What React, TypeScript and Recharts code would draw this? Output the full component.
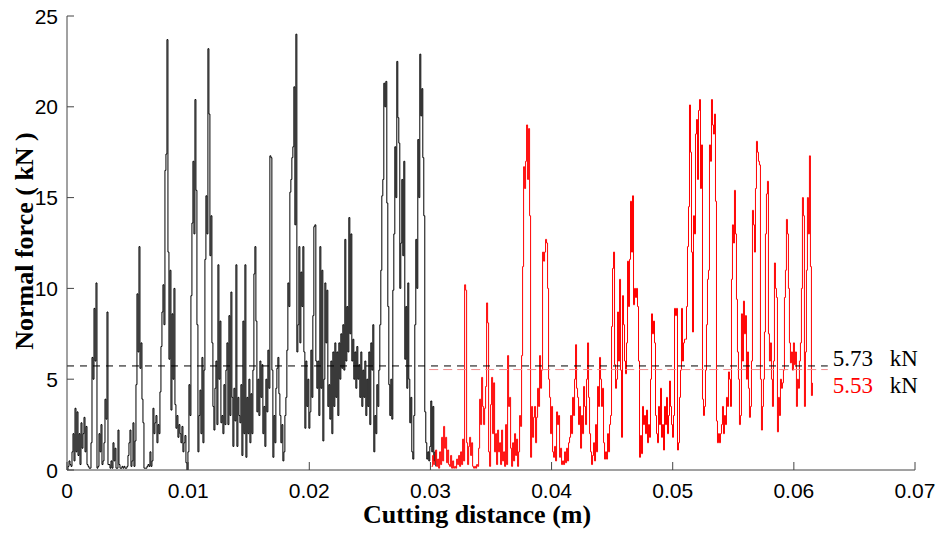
import React from 'react';
import { LineChart, Line, XAxis, YAxis } from 'recharts';

// Force signal, sampled at a uniform cutting-distance step (m)
const SAMPLE_STEP = 0.0000825;
const BLACK_START = 0;
const RED_START = 0.0301;

const blackForce = [
  0, 0.2, 0.5, 0.3, 0.2, 1.0, 2.0, 0.5, 3.4, 1.0,
  3.2, 0.8, 2.0, 0.3, 2.6, 1.2, 2.0, 2.9, 1.0, 2.4,
  0.3, 0.2, 0.1, 0.1, 1.5, 6.2, 5.0, 8.9, 6.0, 10.3,
  0.1, 0.2, 2.0, 1.0, 2.5, 0.3, 0.5, 1.5, 3.9, 2.8,
  8.7, 0.3, 0.3, 0.1, 0.5, 0.1, 1.5, 0.5, 1.2, 0.1,
  0.1, 2.2, 0.3, 0.1, 0.1, 0.2, 0.1, 0.2, 0.1, 0.1,
  0.2, 0.8, 1.5, 2.2, 0.2, 0.5, 2.6, 0.2, 1.6, 4.7,
  9.7, 6.5, 12.3, 5.6, 7.0, 3.9, 2.6, 0.1, 0.1, 0.1,
  0.2, 0.3, 0.2, 1.0, 0.2, 0.5, 3.4, 2.0, 2.6, 3.0,
  1.5, 2.5, 2.0, 4.3, 6.8, 8.7, 10.2, 8.0, 16.5, 17.4,
  23.7, 12.0, 6.1, 11.0, 3.3, 8.6, 5.0, 10.0, 3.6, 2.3,
  3.0, 1.8, 2.5, 2.0, 1.5, 2.4, 1.0, 1.5, 1.9, 0.4,
  0.0, 1.0, 4.7, 3.0, 9.6, 13.6, 17.0, 13.0, 20.4, 15.4,
  8.0, 1.0, 3.0, 4.4, 2.0, 6.2, 1.5, 5.5, 11.6, 15.1,
  13.0, 23.2, 19.6, 11.8, 14.0, 7.0, 3.5, 2.2, 4.5, 6.0,
  2.5, 11.3, 5.0, 8.2, 2.6, 3.0, 2.0, 4.7, 2.5, 5.5,
  7.0, 2.5, 8.5, 3.0, 9.8, 4.0, 1.3, 4.5, 2.7, 11.3,
  1.3, 4.0, 3.0, 2.6, 4.7, 0.8, 8.2, 2.0, 11.3, 0.7,
  4.0, 2.0, 5.0, 1.5, 4.2, 2.0, 5.5, 10.8, 12.3, 8.2,
  3.2, 5.0, 3.0, 6.0, 4.0, 5.8, 2.0, 3.5, 1.3, 5.0,
  3.2, 6.6, 4.5, 17.3, 17.2, 5.5, 0.7, 3.0, 1.5, 4.5,
  5.6, 6.2, 4.2, 3.0, 1.5, 2.5, 0.5, 1.0, 3.0, 4.0,
  6.6, 10.3, 9.0, 15.3, 16.0, 17.2, 17.8, 21.1, 13.5, 24.0,
  6.5, 8.0, 12.3, 7.0, 10.9, 9.0, 12.3, 6.5, 2.3, 6.0,
  3.5, 5.0, 2.3, 3.2, 6.6, 4.0, 8.5, 13.4, 13.5, 6.0,
  4.5, 6.0, 3.0, 12.3, 4.5, 11.0, 1.6, 5.0, 10.3, 7.0,
  9.9, 3.5, 4.7, 2.8, 6.0, 2.0, 6.5, 3.5, 7.0, 4.0,
  6.5, 3.0, 7.0, 5.0, 7.5, 5.6, 8.0, 5.5, 12.7, 6.0,
  9.0, 6.5, 13.9, 7.5, 13.0, 6.0, 7.2, 5.0, 6.5, 4.5,
  6.8, 5.0, 5.8, 4.0, 6.5, 3.5, 5.5, 4.0, 6.0, 3.0,
  5.0, 3.5, 6.5, 2.5, 7.0, 5.5, 8.0, 1.0, 3.0, 2.0,
  4.7, 3.5, 5.5, 8.0, 11.0, 15.1, 16.0, 21.3, 20.0, 21.4,
  14.7, 9.0, 4.7, 3.0, 5.0, 2.8, 9.9, 13.0, 17.8, 15.0,
  22.5, 19.4, 18.0, 10.0, 12.5, 16.0, 11.8, 17.0, 6.1, 9.0,
  4.5, 10.3, 5.0, 2.6, 4.0, 1.0, 0.6, 3.0, 8.0, 12.7,
  10.0, 18.2, 15.0, 22.9, 19.5, 21.0, 17.2, 14.0, 3.2, 1.5,
  0.6, 1.0, 0.5, 1.3, 3.8, 1.0, 3.5, 0.5, 1.0, 0.2,
];

const redForce = [
  0.2, 0.8, 0.3, 0.5, 1.1, 0.2, 0.6, 0.1, 1.0, 0.3,
  1.8, 0.5, 2.4, 1.2, 1.8, 0.4, 1.1, 0.3, 0.2, 0.8,
  0.1, 0.5, 0.1, 0.2, 0.1, 0.6, 0.3, 0.8, 0.2, 1.0,
  0.3, 1.7, 0.5, 10.2, 9.9, 1.5, 0.3, 1.3, 1.8, 0.8,
  1.5, 0.2, 0.1, 0.2, 0.1, 0.3, 0.2, 1.2, 3.9, 2.5,
  5.1, 3.5, 2.5, 3.4, 4.6, 9.2, 8.1, 1.0, 0.2, 3.6,
  5.1, 2.0, 4.8, 1.0, 2.0, 0.3, 2.2, 1.0, 1.5, 0.3,
  2.2, 0.5, 1.0, 0.2, 2.5, 0.3, 6.3, 3.5, 4.0, 1.2,
  0.2, 1.5, 0.5, 2.0, 0.8, 1.7, 0.2, 1.0, 3.0, 2.4,
  6.3, 11.2, 16.7, 15.5, 17.0, 19.0, 16.0, 18.8, 14.0, 0.7,
  3.5, 1.8, 2.9, 3.5, 1.5, 2.9, 4.5, 3.5, 6.3, 4.5,
  5.5, 12.0, 11.5, 12.0, 12.7, 12.5, 10.0, 5.0, 4.0, 2.0,
  3.5, 1.0, 0.7, 1.3, 0.5, 3.2, 2.5, 3.0, 0.7, 1.2,
  0.3, 0.5, 0.3, 1.0, 0.4, 1.2, 0.5, 1.5, 1.8, 3.0,
  2.0, 4.0, 3.0, 5.0, 6.9, 4.5, 4.0, 2.5, 3.5, 1.2,
  3.0, 2.0, 4.6, 3.5, 2.5, 5.0, 7.0, 4.0, 2.0, 1.0,
  0.3, 0.8, 1.5, 0.5, 2.5, 1.0, 4.6, 3.5, 6.2, 5.0,
  3.5, 4.5, 1.5, 0.6, 1.0, 0.6, 2.0, 1.0, 2.5, 3.0,
  7.9, 11.1, 12.0, 5.8, 4.5, 5.0, 8.7, 6.0, 10.5, 5.5,
  1.8, 9.6, 8.0, 6.0, 5.3, 7.0, 11.5, 9.0, 11.6, 14.8,
  12.0, 15.1, 9.1, 10.0, 9.5, 10.0, 9.0, 6.0, 0.7, 1.9,
  0.9, 3.5, 2.5, 3.0, 2.0, 3.3, 1.5, 2.5, 1.8, 5.0,
  8.6, 7.5, 8.2, 7.0, 3.0, 2.0, 1.5, 3.5, 2.5, 4.5,
  1.8, 2.5, 1.1, 3.5, 2.5, 4.0, 2.0, 3.0, 4.9, 3.5,
  2.5, 1.8, 3.0, 8.9, 8.5, 8.9, 1.1, 1.5, 4.0, 5.5,
  8.9, 6.0, 7.0, 7.2, 7.2, 9.0, 12.3, 14.5, 20.1, 17.5,
  12.0, 7.6, 14.0, 13.0, 18.5, 19.3, 16.0, 19.8, 20.4, 15.5,
  17.9, 3.9, 3.0, 3.5, 5.5, 8.0, 10.5, 11.0, 17.9, 17.0,
  20.4, 19.0, 18.5, 19.6, 14.8, 2.7, 1.5, 2.0, 1.5, 2.0,
  2.5, 3.5, 2.0, 3.0, 2.5, 4.0, 3.5, 5.4, 5.0, 3.5,
  10.5, 13.5, 12.5, 15.4, 13.0, 9.4, 6.5, 5.0, 2.5, 3.0,
  8.6, 6.0, 9.3, 7.5, 8.5, 5.0, 6.5, 4.5, 2.9, 3.5,
  6.0, 14.3, 13.5, 12.0, 15.5, 18.1, 17.5, 17.0, 16.8, 5.0,
  2.2, 3.5, 5.0, 7.6, 13.0, 15.2, 15.9, 7.5, 6.0, 7.0,
  5.0, 3.5, 6.0, 11.4, 10.0, 9.5, 2.1, 4.0, 3.0, 5.0,
  4.5, 4.8, 5.5, 9.5, 11.0, 13.8, 13.0, 10.0, 7.0, 5.9,
  6.5, 5.5, 7.0, 5.8, 6.5, 3.5, 5.0, 4.5, 6.0, 7.0,
  10.0, 15.0, 14.0, 3.5, 6.5, 11.0, 15.0, 13.0, 17.3, 11.2,
  4.1, 4.8,
];

const BLACK_MEAN = 5.73;
const RED_MEAN = 5.53;
const BLACK_MEAN_LABEL = '5.73';
const RED_MEAN_LABEL = '5.53';
const MEAN_UNIT = 'kN';
const blackMeanSpan = [0, 0.0628];
const redMeanSpan = [0.0299, 0.0628];

const xTicks = [0, 0.01, 0.02, 0.03, 0.04, 0.05, 0.06, 0.07];
const xTickLabels = ['0', '0.01', '0.02', '0.03', '0.04', '0.05', '0.06', '0.07'];
const yTicks = [0, 5, 10, 15, 20, 25];
const yTickLabels = ['0', '5', '10', '15', '20', '25'];

const X_TITLE = 'Cutting distance (m)';
const Y_TITLE = 'Normal force ( kN )';

const blackData = blackForce.map((f, i) => ({ d: BLACK_START + i * SAMPLE_STEP, f }));
const redData = redForce.map((f, i) => ({ d: RED_START + i * SAMPLE_STEP, f }));
const blackMeanData = blackMeanSpan.map((d) => ({ d, f: BLACK_MEAN }));
const redMeanData = redMeanSpan.map((d) => ({ d, f: RED_MEAN }));

const SANS = '"Liberation Sans", Arial, sans-serif';
const SERIF = '"Liberation Serif", "Times New Roman", serif';
const AXIS = '#444';

const lookup = (ticks: number[], labels: string[], v: number) => {
  const i = ticks.findIndex((t) => Math.abs(t - v) < 1e-9);
  return i >= 0 ? labels[i] : String(v);
};

const XTick = (props: any) => {
  const { x, y, payload } = props;
  return (
    <g>
      <line x1={x} x2={x} y1={y - 28} y2={y - 36} stroke={AXIS} strokeWidth={1} />
      <text x={x} y={y} textAnchor="middle" fontFamily={SANS} fontSize={21} fill="#000">
        {lookup(xTicks, xTickLabels, payload.value)}
      </text>
    </g>
  );
};

const YTick = (props: any) => {
  const { x, y, payload } = props;
  return (
    <g>
      <line x1={x + 9} x2={x + 16} y1={y} y2={y} stroke={AXIS} strokeWidth={1} />
      <text x={x} y={y + 7.5} textAnchor="end" fontFamily={SANS} fontSize={21} fill="#000">
        {lookup(yTicks, yTickLabels, payload.value)}
      </text>
    </g>
  );
};

const meanLabel = (text: string, color: string, dy: number) => (props: any) => {
  const { x, y, index } = props;
  if (index !== 1) return null;
  return (
    <g>
      <text x={x + 5} y={y + dy} fontFamily={SERIF} fontSize={23} fill={color}>
        {text}
      </text>
      <text x={x + 62} y={y + dy} fontFamily={SERIF} fontSize={23} fill="#000">
        {MEAN_UNIT}
      </text>
    </g>
  );
};

export default function App() {
  return (
    <div style={{ position: 'absolute', left: 0, top: 0, width: 943, height: 535, background: '#fff' }}>
      <LineChart
        width={943}
        height={535}
        margin={{ top: 16, right: 28, bottom: 5, left: 7 }}
      >
        <XAxis
          dataKey="d"
          type="number"
          domain={[0, 0.07]}
          ticks={xTicks}
          interval={0}
          allowDataOverflow
          height={60}
          tickSize={0}
          tickMargin={28}
          tick={<XTick />}
          tickLine={false}
          axisLine={{ stroke: AXIS, strokeWidth: 1 }}
        />
        <YAxis
          type="number"
          domain={[0, 25]}
          ticks={yTicks}
          interval={0}
          allowDataOverflow
          width={60}
          tickSize={0}
          tickMargin={9}
          tick={<YTick />}
          tickLine={false}
          axisLine={{ stroke: AXIS, strokeWidth: 1 }}
        />
        <Line
          data={blackData}
          dataKey="f"
          type="stepAfter"
          stroke="#000"
          strokeWidth={1}
          dot={false}
          isAnimationActive={false}
        />
        <Line
          data={redData}
          dataKey="f"
          type="stepAfter"
          stroke="#ff0000"
          strokeWidth={1}
          dot={false}
          isAnimationActive={false}
        />
        <Line
          data={blackMeanData}
          dataKey="f"
          type="linear"
          stroke="#000"
          strokeWidth={1}
          strokeDasharray="7 6"
          dot={false}
          isAnimationActive={false}
          label={meanLabel(BLACK_MEAN_LABEL, '#000', 0)}
        />
        <Line
          data={redMeanData}
          dataKey="f"
          type="linear"
          stroke="#f08a8a"
          strokeWidth={1}
          strokeDasharray="9 5"
          dot={false}
          isAnimationActive={false}
          label={meanLabel(RED_MEAN_LABEL, '#ff0000', 23)}
        />
      </LineChart>
      <svg
        width={943}
        height={535}
        style={{ position: 'absolute', left: 0, top: 0, pointerEvents: 'none' }}
      >
        <text x={477} y={523} textAnchor="middle" fontFamily={SERIF} fontWeight="bold" fontSize={26} fill="#000">
          {X_TITLE}
        </text>
        <text
          x={33}
          y={241}
          textAnchor="middle"
          fontFamily={SERIF}
          fontWeight="bold"
          fontSize={26}
          fill="#000"
          transform="rotate(-90 33 241)"
        >
          {Y_TITLE}
        </text>
      </svg>
    </div>
  );
}
